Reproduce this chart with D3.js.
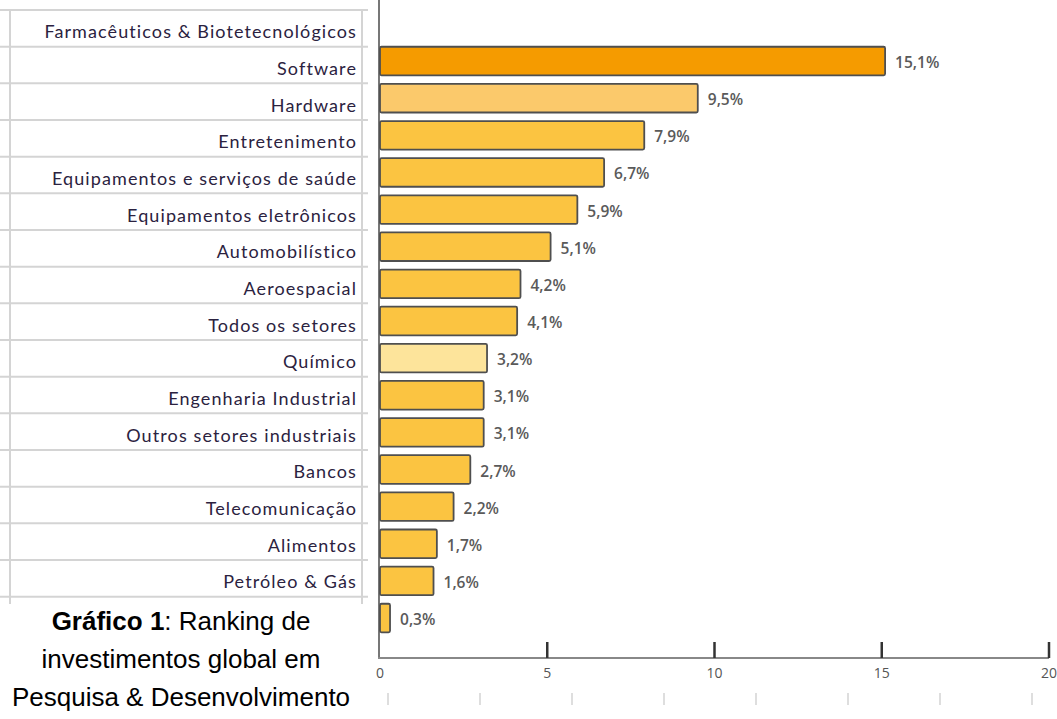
<!DOCTYPE html>
<html>
<head>
<meta charset="utf-8">
<script src="https://cdn.jsdelivr.net/npm/d3@7"></script>
<style>
  html, body { margin: 0; padding: 0; background: #fff; }
  svg { display: block; }
</style>
</head>
<body>
<svg id="chart" width="1057" height="719"></svg>
<script>
// Category labels of the left table
var rowLabels = [
    'Farmacêuticos & Biotetecnológicos',
    'Software',
    'Hardware',
    'Entretenimento',
    'Equipamentos e serviços de saúde',
    'Equipamentos eletrônicos',
    'Automobilístico',
    'Aeroespacial',
    'Todos os setores',
    'Químico',
    'Engenharia Industrial',
    'Outros setores industriais',
    'Bancos',
    'Telecomunicação',
    'Alimentos',
    'Petróleo & Gás'
];

// Bar values (%), top to bottom
var barValues = [15.1, 9.5, 7.9, 6.7, 5.9, 5.1, 4.2, 4.1, 3.2, 3.1, 3.1, 2.7, 2.2, 1.7, 1.6, 0.3];
var barLabels = ['15,1%', '9,5%', '7,9%', '6,7%', '5,9%', '5,1%', '4,2%', '4,1%', '3,2%', '3,1%', '3,1%', '2,7%', '2,2%', '1,7%', '1,6%', '0,3%'];
var barKinds = ['dark', 'light', 'mid', 'mid', 'mid', 'mid', 'mid', 'mid', 'pale', 'mid', 'mid', 'mid', 'mid', 'mid', 'mid', 'mid'];

var xTicks = [5, 10, 15, 20];
var xTickLabels = [0, 5, 10, 15, 20];
var faintTicks = [0, 1, 2, 3, 4, 5, 6, 7];

var captionLines = [
    [{t: 'Gráfico 1', b: true}, {t: ': Ranking de', b: false}],
    [{t: 'investimentos global em', b: false}],
    [{t: 'Pesquisa & Desenvolvimento', b: false}]
];

var colors = {
    dark: '#f59b00',
    light: '#fbc96b',
    mid: '#fbc441',
    pale: '#fde49b'
};

var svg = d3.select('svg#chart');

/**
 * Left table with category labels.
 */
var rowY = d3.scaleBand()
    .domain(d3.range(rowLabels.length))
    .range([10, 596.7]);

var table = svg.append('g');

table.selectAll('.rowline')
    .data(d3.range(rowLabels.length + 1))
    .enter().append('line')
        .attr('x1', 0)
        .attr('x2', 368)
        .attr('y1', function(d) { return 10 + d * rowY.step(); })
        .attr('y2', function(d) { return 10 + d * rowY.step(); })
        .attr('stroke', '#d4d4d4')
        .attr('stroke-width', 2);

[10, 362].forEach(function(x) {
    table.append('line')
        .attr('x1', x).attr('x2', x)
        .attr('y1', 10).attr('y2', 604)
        .attr('stroke', '#d4d4d4')
        .attr('stroke-width', 2);
});

table.selectAll('.rowlabel')
    .data(rowLabels)
    .enter().append('text')
        .attr('x', 357)
        .attr('y', function(d, i) { return rowY(i) + rowY.bandwidth() / 2 + 10; })
        .attr('text-anchor', 'end')
        .style('font-family', 'Lato, sans-serif')
        .style('font-size', '18px')
        .style('letter-spacing', '1.1px')
        .attr('fill', '#2b2240')
        .text(function(d) { return d; });

/**
 * Bar chart
 */
var x = d3.scaleLinear().domain([0, 20]).range([380, 1049]);
var y = d3.scaleBand()
    .domain(d3.range(barValues.length))
    .range([42.5, 636.6])
    .paddingInner(0.23)
    .paddingOuter(0.115);

var plot = svg.append('g');

// vertical axis line
plot.append('line')
    .attr('x1', x(0) - 1).attr('x2', x(0) - 1)
    .attr('y1', 0).attr('y2', 659)
    .attr('stroke', '#777')
    .attr('stroke-width', 2);

plot.selectAll('.bar')
    .data(barValues)
    .enter().append('rect')
        .attr('x', x(0))
        .attr('y', function(d, i) { return y(i); })
        .attr('width', function(d) { return x(d) - x(0); })
        .attr('height', y.bandwidth())
        .attr('rx', 1.5)
        .attr('fill', function(d, i) { return colors[barKinds[i]]; })
        .attr('stroke', '#4f4f4f')
        .attr('stroke-width', 1.8);

plot.selectAll('.value')
    .data(barValues)
    .enter().append('text')
        .attr('x', function(d) { return x(d) + 10; })
        .attr('y', function(d, i) { return y(i) + y.bandwidth() / 2 + 7; })
        .style('font-family', '"Open Sans", sans-serif')
        .style('font-size', '15.5px')
        .style('font-weight', 600)
        .attr('fill', '#5a5a5a')
        .text(function(d, i) { return barLabels[i]; });

// horizontal axis
plot.append('line')
    .attr('x1', x(0) - 2).attr('x2', x(20))
    .attr('y1', 658).attr('y2', 658)
    .attr('stroke', '#888')
    .attr('stroke-width', 2);

plot.selectAll('.tick')
    .data(xTicks)
    .enter().append('line')
        .attr('x1', function(d) { return x(d); })
        .attr('x2', function(d) { return x(d); })
        .attr('y1', 642).attr('y2', 658)
        .attr('stroke', '#333')
        .attr('stroke-width', 2.5);

plot.selectAll('.ticklabel')
    .data(xTickLabels)
    .enter().append('text')
        .attr('x', function(d) { return x(d); })
        .attr('y', 678)
        .attr('text-anchor', 'middle')
        .style('font-family', '"Open Sans", sans-serif')
        .style('font-size', '14px')
        .attr('fill', '#555')
        .text(function(d) { return d; });

// faint marks below the axis
var xf = d3.scaleLinear().domain([0, 7]).range([388, 1032]);
plot.selectAll('.faint')
    .data(faintTicks)
    .enter().append('line')
        .attr('x1', function(d) { return xf(d); })
        .attr('x2', function(d) { return xf(d); })
        .attr('y1', 693).attr('y2', 705)
        .attr('stroke', '#c8c8c8')
        .attr('stroke-width', 1.2);

/**
 * Caption
 */
var caption = svg.append('g');
caption.selectAll('text')
    .data(captionLines)
    .enter().append('text')
        .attr('x', 181)
        .attr('y', function(d, i) { return 630 + i * 38; })
        .attr('text-anchor', 'middle')
        .style('font-family', '"Liberation Sans", Arial, sans-serif')
        .style('font-size', '26px')
        .attr('fill', '#000')
        .each(function(d) {
            var t = d3.select(this);
            d.forEach(function(part) {
                t.append('tspan')
                    .style('font-weight', part.b ? 'bold' : 'normal')
                    .text(part.t);
            });
        });
</script>
</body>
</html>
